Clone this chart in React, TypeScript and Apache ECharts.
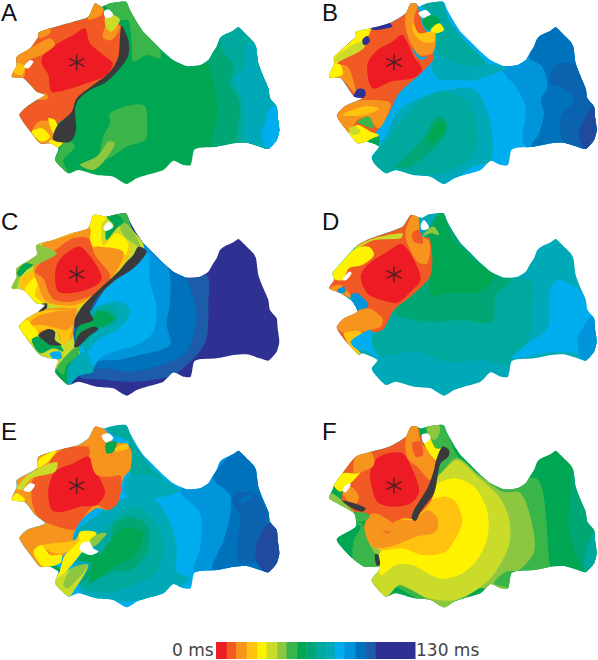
import React, { useEffect, useRef } from "react";
import * as echarts from "echarts";

// colour scale (first 17 entries are the bar, the others are extra map tones)
const PALETTE = ["#ed1c24","#f15a24","#f7941d","#ffc20e","#fff200","#cbdb2a","#8dc63f","#39b54a","#00a651","#00a774","#00a99d","#00a9b8","#00aeef","#0095da","#0072bc","#1c5ca8","#2e3192","#3a3a3c","#ffffff","#0b62ae","#1f4a9e"];
const BAR_EDGES = [0,7,13,20,27,33,40,46,53,59,65,72,78,84,91,98,104,130];
const DK = 17, WH = 18, D1 = 19, D2 = 20;

const EDGE = [378,5,390,30,410,65,430,95,460,125,490,155,520,180,560,198,600,195,625,180,640,155,650,140,660,115,672,105,700,92,715,82,730,95,745,110,760,125,768,140,775,190,790,230,805,265,810,295,830,320,833,350,838,390,830,420,805,447,780,440,740,428,700,430,650,440,600,443,582,450,572,495,550,495,520,482,490,510,440,525,410,535,380,552,340,530,290,525,235,510,205,520];

const LEFT_A = [165,480,175,445,150,430,120,430,95,400,58,345,80,320,110,300,135,285,110,275,70,235,35,230,50,195,50,170,90,145,115,110,115,98,150,85,220,65,265,50,285,10,305,20,330,10];
const LEFT_B = [225,490,218,470,240,440,205,425,175,430,150,400,113,348,135,320,190,295,165,290,125,235,90,232,105,190,105,170,170,110,170,95,215,85,270,70,320,40,335,10,352,10,360,20,385,10];
const LEFT_C = [165,500,175,465,150,460,120,450,95,420,58,365,80,340,115,320,135,300,110,295,70,255,35,250,50,215,50,190,110,150,110,120,160,105,215,85,265,70,280,30,320,35,350,28];
const LEFT_D = [225,505,218,490,235,465,190,445,180,450,150,420,113,368,135,340,175,320,160,290,125,265,90,250,105,225,100,205,125,175,170,125,215,100,310,65,335,30,355,35,370,38,390,28];
const LEFT_E = [165,505,175,470,150,455,120,455,95,425,58,370,80,345,135,325,105,300,75,262,35,255,50,215,50,195,110,160,115,125,195,100,235,90,265,70,285,35,310,40,330,35];
const LEFT_F = [225,510,218,495,240,465,240,455,195,455,160,430,113,373,170,335,165,295,90,250,100,225,105,210,130,175,170,125,215,110,270,95,320,65,335,35,355,35,365,40,385,35];

const REGIONS_A: [number, number[]][] = [
  [8,[0,0,897,0,897,600,0,600]],
  [9,[600,150,625,195,645,270,652,340,640,460,900,460,900,50,600,50]],
  [10,[680,70,660,135,700,200,690,250,720,310,720,440,900,460,900,70]],
  [11,[745,130,735,200,700,235,715,270,735,340,740,430,900,460,900,100]],
  [12,[815,320,795,370,785,410,805,450,850,450,850,320]],
  [7,[310,12,378,0,410,65,480,150,480,175,440,165,400,185,395,130,385,60,360,60,325,25]],
  [7,[330,340,395,315,435,318,442,380,435,420,380,440,335,470,300,480,310,410,330,370]],
  [7,[165,480,200,420,225,440,190,480,205,520,175,500]],
  [6,[325,425,345,430,315,480,280,510,240,495,270,480,295,465]],
  [1,[285,10,310,30,330,60,365,80,360,140,355,180,330,225,280,255,230,300,215,340,170,375,160,420,185,430,160,445,120,430,95,400,58,345,80,320,135,285,110,275,70,235,35,230,50,170,90,145,115,100,150,85,220,65,265,50]],
  [2,[115,100,150,85,150,100,120,115]],
  [0,[255,85,270,130,310,165,338,190,320,225,260,250,215,265,155,275,145,225,125,190,130,165,165,135,220,105]],
  [2,[35,230,50,170,90,145,150,115,165,135,125,165,80,185,70,235]],
  [3,[40,215,55,190,75,200,65,225]],
  [2,[265,50,285,10,310,25,305,45,265,60]],
  [2,[310,95,325,65,360,80,335,120,310,115]],
  [2,[100,290,135,280,145,295,120,300]],
  [2,[95,400,115,365,150,365,165,395,170,420,120,430]],
  [4,[95,395,125,385,150,410,125,425]],
  [4,[150,420,190,425,170,445,150,435]],
  [4,[145,355,165,360,175,395,160,400]],
  [5,[315,55,340,45,360,60,335,95,320,85]],
  [WH,[312,35,325,28,340,45,318,55]],
  [WH,[72,200,90,180,100,185,85,205]],
  [DK,[365,78,385,120,385,165,360,205,320,245,270,270,235,300,225,330,228,390,210,425,160,420,170,380,215,335,230,295,280,255,330,215,355,170,360,110]],
];
const REGIONS_B: [number, number[]][] = [
  [12,[0,0,897,0,897,600,0,600]],
  [13,[690,150,610,205,650,260,680,320,680,440,900,500,900,50,690,50]],
  [14,[760,70,690,170,730,200,745,260,725,300,735,340,720,400,700,440,900,500,900,50]],
  [D1,[770,195,830,195,862,270,885,310,900,450,845,450,795,430,785,350,825,300,790,260,750,250]],
  [D2,[885,320,850,370,840,410,860,450,900,450]],
  [11,[240,440,265,400,295,335,370,290,440,270,530,270,575,370,580,480,570,490,520,500,430,560,330,530,220,480]],
  [10,[265,420,310,360,370,300,430,275,500,300,530,360,535,430,510,480,430,520,330,525,260,520,220,480]],
  [11,[395,130,480,190,560,190,620,205,530,240,470,240,415,235,395,190]],
  [10,[360,10,425,0,450,60,500,125,560,190,490,195,420,160,410,90,430,70,380,30]],
  [9,[410,350,440,360,440,400,400,450,330,500,290,500,310,480,370,420]],
  [8,[420,365,438,370,438,395,400,430,385,415]],
  [1,[170,110,215,85,270,70,320,40,335,10,355,20,375,85,410,125,400,160,405,170,395,190,360,225,300,280,270,340,240,385,205,425,175,430,150,400,113,348,135,320,190,295,165,290,125,235,90,232,105,190,105,170]],
  [2,[320,40,335,10,355,15,345,60,360,100,405,95,410,130,400,160,360,165,335,130,320,85]],
  [3,[340,70,360,100,405,95,405,125,370,125,345,100]],
  [12,[340,145,365,170,385,170,365,180,350,165]],
  [0,[310,105,345,170,370,210,340,235,275,245,220,265,205,195,235,150,280,125]],
  [2,[113,348,135,320,190,300,270,305,275,320,240,385,205,355,175,360,150,400]],
  [3,[130,345,190,320,240,325,200,345]],
  [4,[150,400,175,375,215,395,240,405,205,425,175,430]],
  [5,[150,385,170,380,185,395,160,405]],
  [7,[175,365,210,350,225,385,205,380]],
  [8,[205,425,240,410,235,445,215,440]],
  [2,[90,232,125,195,150,205,170,280,125,235]],
  [4,[90,232,105,190,125,195,130,225]],
  [4,[105,190,105,170,170,110,170,95,215,85,190,135,130,170,115,190]],
  [5,[105,190,110,170,170,130,195,125,195,145,130,180]],
  [16,[215,80,270,68,280,80,225,90]],
  [16,[190,120,205,108,213,125,195,135]],
  [16,[165,290,175,268,195,268,200,285,185,297]],
  [WH,[358,40,380,30,395,45,375,55]],
  [8,[370,60,400,45,425,65,395,90,380,85]],
  [4,[395,90,420,70,435,90,410,100]],
];
const REGIONS_C: [number, number[]][] = [
  [16,[0,0,897,0,897,600,0,600]],
  [15,[430,90,620,210,625,290,620,400,590,450,520,510,410,530,320,525,230,510,200,400,300,200]],
  [14,[440,90,545,190,570,250,590,330,560,440,510,470,400,500,300,490,240,510,230,440,300,300]],
  [13,[440,100,490,150,510,215,510,290,500,360,510,420,420,450,350,465,290,470,250,510,230,500,240,440,300,300]],
  [12,[415,130,445,150,450,230,470,310,460,380,410,420,340,440,300,460,270,500,235,495,240,430,285,300]],
  [11,[270,320,340,290,380,300,390,330,350,375,300,400,260,440,245,410,280,380]],
  [10,[280,320,330,300,355,330,330,365,290,375,250,420,240,400]],
  [8,[290,320,320,320,345,340,310,365,280,355]],
  [5,[0,100,300,0,420,100,430,135,225,350,225,420,240,440,225,480,200,560,100,480,0,400]],
  [7,[320,35,350,28,378,25,395,70,420,125,395,100,375,55,360,60,330,35]],
  [6,[360,60,375,55,395,70,420,125,400,115,370,90]],
  [8,[240,360,280,345,295,365,235,420,225,400]],
  [8,[165,500,210,460,235,445,225,490,205,540]],
  [11,[205,485,235,450,260,440,280,500,240,510,205,540]],
  [7,[170,490,210,440,240,420,235,450,200,480,190,510]],
  [2,[110,320,160,310,230,310,225,340,215,400,185,410,165,370,115,385,95,370]],
  [3,[58,365,80,340,115,320,140,315,225,320,220,350,210,400,190,420,170,375,115,380,100,410]],
  [2,[85,360,120,330,225,318,225,350,200,375,170,370,130,360]],
  [4,[58,365,80,345,100,365,115,385,95,410]],
  [3,[110,150,160,105,215,85,265,70,280,30,320,35,300,60,310,110,355,85,390,130,375,170,340,210,280,270,225,310,140,295,110,280,70,255,60,220,130,180]],
  [4,[270,70,280,30,320,35,305,60,310,120,350,85,385,115,375,150,345,130,300,125,275,120]],
  [4,[95,225,130,195,105,270,125,290,135,300,110,295,75,255]],
  [2,[130,115,165,105,225,85,270,70,270,125,300,125,370,140,345,205,280,270,225,300,140,290,115,240,100,190]],
  [1,[265,100,285,150,330,210,320,240,280,270,210,290,165,285,145,260,130,220,105,200,125,170,180,125,220,100]],
  [0,[240,125,275,160,305,215,290,240,230,262,175,260,165,210,175,170,205,140]],
  [6,[50,190,110,150,110,120,135,125,170,145,130,170,80,190,60,215,50,250,35,250,50,215]],
  [8,[50,205,75,175,100,180,80,195,60,215]],
  [8,[320,35,350,28,370,50,350,70,320,105,318,75,340,60]],
  [WH,[310,70,325,50,340,65,318,78]],
  [DK,[415,125,440,140,400,190,340,230,290,280,270,320,280,345,240,360,225,370,225,340,250,300,290,260,350,205,380,170,400,150]],
  [DK,[280,365,295,372,265,395,235,425,222,425,240,385]],
  [8,[95,405,115,395,180,420,190,440,160,430,120,445]],
  [12,[150,445,180,440,185,460,160,462]],
  [DK,[115,390,145,372,165,380,165,405,185,420,150,420,130,405]],
  [DK,[115,300,140,295,140,310,118,320]],
];
const REGIONS_D: [number, number[]][] = [
  [11,[0,0,897,0,897,600,0,600]],
  [10,[220,400,300,320,640,220,700,230,700,300,690,400,620,480,560,465,440,470,360,440,240,450]],
  [9,[285,320,390,200,380,100,430,20,600,200,635,225,590,270,580,350,490,345,420,350,340,345]],
  [8,[385,100,430,20,460,100,530,170,585,215,540,260,450,265,400,270,390,200,400,130]],
  [12,[780,225,860,270,900,330,900,470,830,445,760,440,640,460,680,420,745,370,755,250]],
  [13,[880,330,850,370,835,400,850,465,900,465,900,330]],
  [1,[170,125,215,100,310,65,335,30,355,35,365,95,392,100,395,210,340,270,285,315,250,375,185,385,165,405,150,420,113,368,135,340,205,300,130,270,90,250,105,225,150,190,170,175]],
  [0,[310,118,350,175,365,225,340,255,295,293,240,283,205,265,185,215,205,180,265,140]],
  [2,[320,80,340,30,358,35,365,90,392,110,385,175,355,170,325,115]],
  [1,[340,85,360,75,372,115,345,110]],
  [4,[100,205,125,175,170,130,210,125,225,150,190,180,150,190,130,225,100,220]],
  [5,[170,125,225,100,310,85,305,100,225,105,175,130]],
  [6,[370,95,385,75,405,65,420,90,395,85]],
  [WH,[365,60,375,45,390,68,370,75]],
  [WH,[130,225,150,200,158,205,142,225]],
  [2,[90,250,125,240,160,280,125,265]],
  [13,[155,270,175,265,208,300,175,322,160,290]],
  [13,[115,255,135,245,140,260,122,265]],
  [2,[113,368,135,340,205,310,250,340,245,365,190,380,150,390]],
  [3,[135,385,185,380,190,405,155,410,185,445,170,450,150,420]],
  [12,[155,410,190,385,215,375,220,420,240,465,210,440,170,430]],
];
const REGIONS_E: [number, number[]][] = [
  [12,[0,0,897,0,897,600,0,600]],
  [13,[540,225,600,295,600,400,585,470,900,480,900,50,640,150]],
  [14,[715,105,640,190,690,240,690,300,670,380,660,400,640,465,900,480,900,80]],
  [D1,[700,240,745,230,780,250,805,310,770,380,780,430,720,445,710,400,720,300,700,270]],
  [14,[715,260,750,235,755,245,730,265]],
  [D2,[805,325,835,340,842,415,805,475,770,440,770,385]],
  [11,[225,360,290,300,400,240,460,250,510,320,530,400,530,470,570,490,520,530,380,560,250,540]],
  [10,[400,275,470,330,490,400,470,470,400,510,330,530,240,515,280,420,310,350]],
  [9,[400,305,445,340,440,410,395,465,340,470,280,500,260,510,290,440,330,380,340,330]],
  [8,[370,340,430,350,405,420,350,450,270,500,290,440,330,380]],
  [10,[320,40,378,30,400,80,450,150,500,205,470,230,400,200,385,130,385,80,340,60]],
  [11,[380,190,450,180,540,225,460,250,380,240]],
  [2,[35,255,50,215,50,195,110,160,115,125,195,100,235,90,265,70,285,35,310,40,320,50,340,80,385,90,392,160,370,190,355,260,325,285,290,280,240,320,220,360,215,395,180,430,150,455,120,455,95,425,58,370,80,345,135,325,105,300,75,262]],
  [1,[155,130,195,100,265,95,270,115,265,130,290,180,360,180,355,260,325,285,285,270,240,320,220,345,145,325,110,300,95,250,100,190,140,170]],
  [0,[265,125,295,180,315,235,290,270,240,275,190,290,155,285,145,225,165,170,220,145]],
  [2,[270,110,280,35,305,40,300,75,315,105,390,100,390,160,360,180,290,180]],
  [4,[120,130,170,105,145,140,110,160]],
  [5,[50,220,90,175,170,140,165,170,95,190,65,225]],
  [4,[35,255,50,235,75,255,50,270]],
  [WH,[70,225,90,205,105,210,90,230]],
  [8,[318,85,350,80,340,110,320,115]],
  [3,[345,100,380,85,385,100,350,110]],
  [WH,[305,62,325,55,340,70,318,82]],
  [3,[130,390,160,385,225,375,240,350,240,380,190,415,150,410]],
  [4,[100,410,125,390,150,420,185,420,180,445,130,455]],
  [4,[240,350,290,355,235,425,190,480,165,505,180,465,195,420,235,380]],
  [5,[265,450,220,530,205,545,165,505,215,460]],
  [6,[265,450,215,460,190,510,205,520]],
  [8,[290,405,250,415,235,435,275,445,265,470,240,510,300,440]],
  [WH,[245,385,270,380,280,400,295,410,270,420,240,405]],
  [6,[270,375,300,355,320,355,300,380,280,395]],
  [8,[150,455,175,455,180,470,165,465]],
];
const REGIONS_F: [number, number[]][] = [
  [8,[0,0,897,0,897,600,0,600]],
  [9,[820,170,815,230,810,350,860,470,900,470,900,170]],
  [10,[885,350,860,410,860,470,900,470,900,350]],
  [7,[380,30,425,25,480,130,560,200,710,190,735,250,752,450,760,470,660,470,630,520,550,500,480,570,420,585,300,520,200,470,200,350,400,150]],
  [6,[470,130,540,180,610,230,665,235,700,330,705,410,660,465,620,470,585,505,630,520,590,525,530,520,480,550,430,580,380,550,300,510,225,515,200,400,380,250]],
  [6,[385,35,420,30,420,60,405,75,390,60]],
  [5,[430,170,475,135,530,180,600,245,630,310,630,390,590,470,540,520,470,555,390,550,330,520,300,510,260,545,220,500,240,460,300,300]],
  [4,[410,210,470,190,530,220,565,290,565,370,530,440,480,480,420,490,340,450,290,450,245,480,240,420,300,330]],
  [3,[430,245,470,260,490,320,470,370,440,410,370,420,310,400,240,405,210,370,300,300]],
  [2,[340,315,385,285,415,310,410,350,350,365,290,390,235,400,210,385,195,340,215,300]],
  [1,[170,125,215,110,270,95,320,65,335,35,355,35,375,90,410,120,415,150,400,250,345,310,315,310,280,325,270,355,225,330,205,300,165,290,130,255,130,225,105,215,130,175]],
  [2,[205,310,225,295,260,310,280,325,270,350,225,335]],
  [0,[310,115,345,175,360,230,335,265,280,275,235,260,215,200,215,165,240,125]],
  [2,[320,70,335,35,355,35,365,80,410,130,415,150,395,195,355,155,325,130]],
  [1,[340,85,365,80,372,120,350,125]],
  [4,[375,85,390,65,410,100,435,100,430,130,410,135]],
  [4,[105,210,130,175,165,175,185,170,155,205,125,230]],
  [2,[170,125,215,110,225,150,190,170,165,175]],
  [2,[130,235,155,215,180,245,165,270]],
  [WH,[368,60,385,55,395,70,375,85]],
  [WH,[130,225,148,205,155,210,140,232]],
  [8,[113,373,165,335,185,335,165,375,160,430]],
  [7,[165,295,205,295,210,310,175,325,190,325,205,375,235,430,240,455,175,455,160,420,165,375,185,335,170,325]],
  [6,[90,250,100,235,165,290,165,295]],
  [DK,[430,95,450,105,448,125,425,145,415,190,405,235,365,290,350,318,338,310,345,285,385,220,405,165,410,140]],
  [DK,[130,258,165,265,200,280,190,290,160,280]],
  [DK,[228,418,238,420,243,450,232,450]],
];

const STAR_SYMBOL = "path://M46 0H54V100H46ZM9 21.5L95 71.5L91 78.5L5 28.5ZM5 71.5L91 21.5L95 28.5L9 78.5Z";
const STAR_A = [230, 187], STAR_B = [285, 187], STAR_C = [230, 208], STAR_D = [285, 208], STAR_E = [230, 212], STAR_F = [285, 212];

const moved = (f: number[], dx: number, dy: number) => f.map((v, i) => (i % 2 ? v + dy : v + dx));
const pairs = (f: number[]) => { const o: number[][] = []; for (let i = 0; i < f.length; i += 2) o.push([f[i], f[i + 1]]); return o; };

const PANELS = [
  { label: "A", left: 0, top: 0, shift: [0, 0], edge: LEFT_A, regions: REGIONS_A, star: STAR_A, lx: 1, ly: 0 },
  { label: "B", left: 299, top: 0, shift: [55, 0], edge: LEFT_B, regions: REGIONS_B, star: STAR_B, lx: 322, ly: 0 },
  { label: "C", left: 0, top: 205, shift: [0, 20], edge: LEFT_C, regions: REGIONS_C, star: STAR_C, lx: 1, ly: 209 },
  { label: "D", left: 299, top: 205, shift: [55, 20], edge: LEFT_D, regions: REGIONS_D, star: STAR_D, lx: 322, ly: 209 },
  { label: "E", left: 0, top: 415, shift: [0, 25], edge: LEFT_E, regions: REGIONS_E, star: STAR_E, lx: 1, ly: 419 },
  { label: "F", left: 299, top: 415, shift: [55, 25], edge: LEFT_F, regions: REGIONS_F, star: STAR_F, lx: 322, ly: 419 },
];

function buildOption() {
  const grid: any[] = [], xAxis: any[] = [], yAxis: any[] = [], series: any[] = [], graphic: any[] = [];
  PANELS.forEach((p, i) => {
    grid.push({ left: p.left, top: p.top, width: 299, height: 200 });
    xAxis.push({ type: "value", gridIndex: i, min: 0, max: 897, show: false });
    yAxis.push({ type: "value", gridIndex: i, min: 0, max: 600, inverse: true, show: false });
    const outline = pairs([...moved(EDGE, p.shift[0], p.shift[1]), ...p.edge]);
    series.push({
      type: "custom", xAxisIndex: i, yAxisIndex: i, silent: true,
      data: p.regions.map((_, k) => [k, k]),
      renderItem: (params: any, api: any) => {
        const r = p.regions[params.dataIndex];
        return {
          type: "polygon",
          shape: { points: pairs(r[1]).map((q) => api.coord(q)), smooth: params.dataIndex === 0 ? 0 : 0.3 },
          style: { fill: PALETTE[r[0]] },
          clipPath: { type: "polygon", shape: { points: outline.map((q) => api.coord(q)), smooth: 0.2 } },
        };
      },
    });
    series.push({
      type: "scatter", xAxisIndex: i, yAxisIndex: i, silent: true, symbol: STAR_SYMBOL, symbolSize: [16, 16],
      itemStyle: { color: "#2b2224" }, data: [p.star], z: 5,
    });
    graphic.push({
      type: "text", left: p.lx, top: p.ly,
      style: { text: p.label, fontFamily: "Liberation Sans", fontSize: 24, fill: "#111" },
    });
  });
  const bar = PANELS.length;
  grid.push({ left: 216, top: 642, width: 199, height: 17 });
  xAxis.push({ type: "value", gridIndex: bar, min: 0, max: 130, show: false });
  yAxis.push({ type: "value", gridIndex: bar, min: 0, max: 1, show: false });
  series.push({
    type: "custom", xAxisIndex: bar, yAxisIndex: bar, silent: true,
    data: BAR_EDGES.slice(0, -1).map((e, k) => [e, BAR_EDGES[k + 1]]),
    renderItem: (params: any, api: any) => {
      const a = api.coord([api.value(0), 1]);
      const b = api.coord([api.value(1), 0]);
      return { type: "rect", shape: { x: a[0], y: a[1], width: b[0] - a[0] + 0.5, height: b[1] - a[1] }, style: { fill: PALETTE[params.dataIndex] } };
    },
  });
  graphic.push({ type: "text", left: 172, top: 641, style: { text: "0 ms", fontFamily: "DejaVu Sans", fontSize: 17, fill: "#444" } });
  graphic.push({ type: "text", left: 416, top: 641, style: { text: "130 ms", fontFamily: "DejaVu Sans", fontSize: 17, fill: "#444" } });
  return { animation: false, backgroundColor: "#fff", grid, xAxis, yAxis, series, graphic };
}

export default function App() {
  const ref = useRef<HTMLDivElement>(null);
  useEffect(() => {
    document.body.style.margin = "0";
    const chart = echarts.init(ref.current!, undefined, { renderer: "svg" });
    chart.setOption(buildOption());
    return () => chart.dispose();
  }, []);
  return <div ref={ref} style={{ position: "fixed", left: 0, top: 0, width: 598, height: 660 }} />;
}
